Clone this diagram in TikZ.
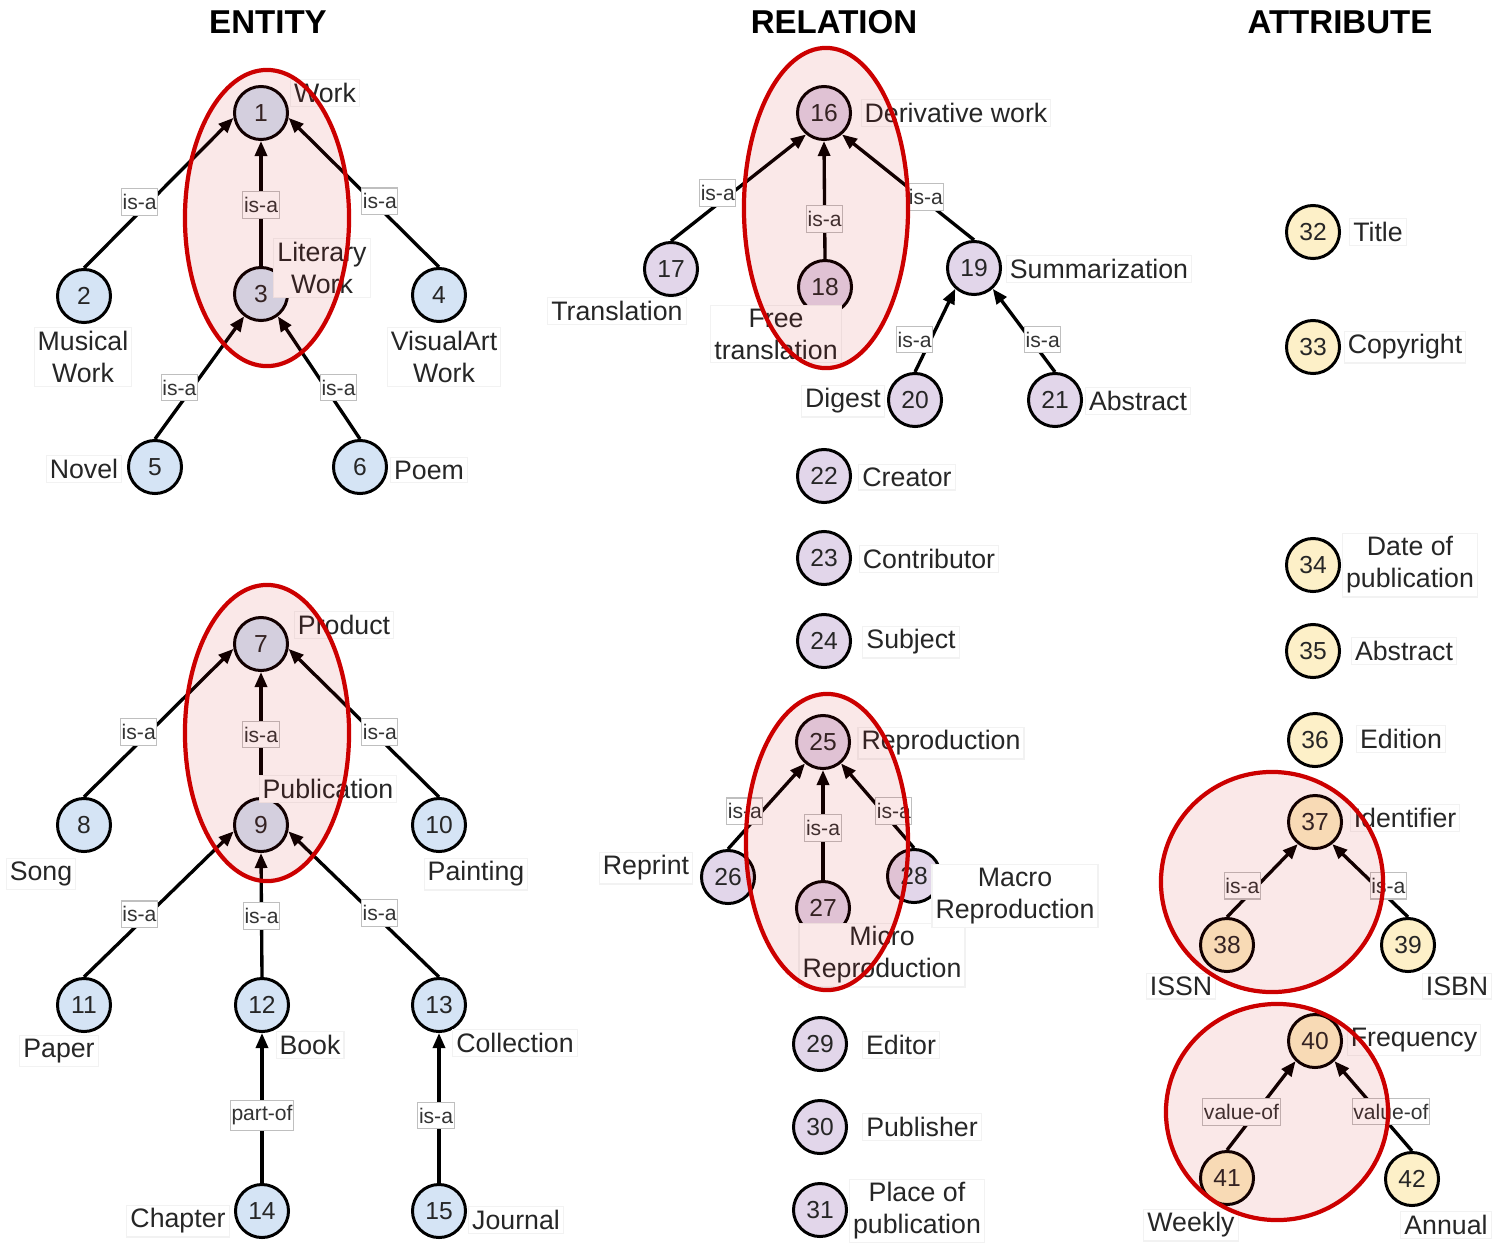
\documentclass[tikz,border=0pt]{standalone}
\usepackage{fontspec}
\setmainfont{Liberation Sans}
\usetikzlibrary{arrows.meta}

\definecolor{entfill}{RGB}{213,228,245}
\definecolor{relfill}{RGB}{226,214,234}
\definecolor{attfill}{RGB}{253,240,200}
\definecolor{hlred}{RGB}{204,0,0}

\tikzset{
  nd/.style={circle, draw, line width=0.85pt, minimum size=5.3mm, inner sep=0pt,
             font=\fontsize{7}{8}\selectfont, text=black!85},
  ent/.style={nd, fill=entfill},
  rel/.style={nd, fill=relfill},
  att/.style={nd, fill=attfill},
  lbl/.style={font=\fontsize{7.6}{9.1}\selectfont, align=center, inner sep=1pt,
              fill=white, draw=black!5, line width=0.3pt, text=black!85},
  elab/.style={font=\fontsize{6}{6.5}\selectfont, fill=white, draw=black!25,
               line width=0.3pt, inner xsep=0.3pt, inner ysep=1.6pt, text=black!80},
  edge/.style={line width=0.95pt, -{Triangle[length=1.5mm,width=1.2mm]}},
  hl/.style={draw=hlred, line width=1.2pt, fill=hlred, fill opacity=0.09},
  ttl/.style={font=\fontsize{9.4}{11}\selectfont\bfseries}
}

\begin{document}
\begin{tikzpicture}[x=0.01cm,y=-0.01cm]
\useasboundingbox (0,0) rectangle (1497,1242);

% column headings
\node[ttl] (tEnt) at (268,22) {ENTITY};
\node[ttl] (tRel) at (834,22) {RELATION};
\node[ttl] (tAtt) at (1340,22) {ATTRIBUTE};

% ---------- entity: works ----------
\node[ent] (n1) at (261,113) {1};
\node[ent] (n2) at (84,296) {2};
\node[ent] (n3) at (261,294) {3};
\node[ent] (n4) at (439,295) {4};
\node[ent] (n5) at (155,467) {5};
\node[ent] (n6) at (360,467) {6};

\draw[edge] (n2.north) -- node[elab, pos=0.44, xshift=-0.10cm]{is-a} (n1.190);
\draw[edge] (n3.north) -- node[elab, pos=0.49]{is-a} (n1.south);
\draw[edge] (n4.north) -- node[elab, pos=0.44, xshift=0.07cm]{is-a} (n1.-10);
\draw[edge] (n5.north) -- node[elab, pos=0.42, xshift=-0.13cm]{is-a} (n3.233);
\draw[edge] (n6.north) -- node[elab, pos=0.42, xshift=0.13cm]{is-a} (n3.-53);

\node[lbl] (l1) at (325,93) {Work};
\node[lbl] (l2) at (83,357) {Musical\\Work};
\node[lbl] (l3) at (322,268) {Literary\\Work};
\node[lbl] (l4) at (444,357) {VisualArt\\Work};
\node[lbl] (l5) at (84,469) {Novel};
\node[lbl] (l6) at (429,470) {Poem};

% ---------- entity: products ----------
\node[ent] (n7) at (261,644) {7};
\node[ent] (n8) at (84,825) {8};
\node[ent] (n9) at (261,825) {9};
\node[ent] (n10) at (439,825) {10};
\node[ent] (n11) at (84,1005) {11};
\node[ent] (n12) at (262,1005) {12};
\node[ent] (n13) at (439,1005) {13};
\node[ent] (n14) at (262,1211) {14};
\node[ent] (n15) at (439,1211) {15};

\draw[edge] (n8.north) -- node[elab, pos=0.44, xshift=-0.11cm]{is-a} (n7.190);
\draw[edge] (n9.north) -- node[elab, pos=0.50]{is-a} (n7.south);
\draw[edge] (n10.north) -- node[elab, pos=0.44, xshift=0.07cm]{is-a} (n7.-10);
\draw[edge] (n11.north) -- node[elab, pos=0.43, xshift=-0.09cm]{is-a} (n9.193);
\draw[edge] (n12.north) -- node[elab, pos=0.49]{is-a} (n9.south);
\draw[edge] (n13.north) -- node[elab, pos=0.44, xshift=0.07cm]{is-a} (n9.-13);
\draw[edge] (n14.north) -- node[elab, pos=0.45]{part-of} (n12.south);
\draw[edge] (n15.north) -- node[elab, pos=0.45, xshift=-0.03cm]{is-a} (n13.south);

\node[lbl] (l7) at (344,625) {Product};
\node[lbl] (l8) at (41,874) {Song};
\node[lbl] (l9) at (328,789) {Publication};
\node[lbl] (l10) at (476,874) {Painting};
\node[lbl] (l11) at (59,1051) {Paper};
\node[lbl] (l12) at (310,1045) {Book};
\node[lbl] (l13) at (515,1043) {Collection};
\node[lbl] (l14) at (178,1221) {Chapter};
\node[lbl] (l15) at (516,1220) {Journal};

% ---------- relations ----------
\node[rel] (n16) at (824,113) {16};
\node[rel] (n17) at (671,269) {17};
\node[rel] (n18) at (825,287) {18};
\node[rel] (n19) at (974,268) {19};
\node[rel] (n20) at (915,400) {20};
\node[rel] (n21) at (1055,400) {21};
\node[rel] (n22) at (824,476) {22};
\node[rel] (n23) at (824,558) {23};
\node[rel] (n24) at (824,641) {24};
\node[rel] (n25) at (823,742) {25};
\node[rel] (n26) at (728,877) {26};
\node[rel] (n27) at (823,908) {27};
\node[rel] (n28) at (914,876) {28};
\node[rel] (n29) at (820,1044) {29};
\node[rel] (n30) at (820,1127) {30};
\node[rel] (n31) at (820,1210) {31};

\draw[edge] (n17.north) -- node[elab, pos=0.45, xshift=-0.14cm]{is-a} (n16.230);
\draw[edge] (n18.north) -- node[elab, pos=0.34]{is-a} (n16.south);
\draw[edge] (n19.north) -- node[elab, pos=0.41, xshift=0.06cm]{is-a} (n16.-50);
\draw[edge] (n20.north) -- node[elab, pos=0.39, xshift=-0.16cm]{is-a} (n19.228);
\draw[edge] (n21.north) -- node[elab, pos=0.39, xshift=0.12cm]{is-a} (n19.-48);
\draw[edge] (n26.north) -- node[elab, pos=0.44, xshift=-0.17cm]{is-a} (n25.230);
\draw[edge] (n27.north) -- node[elab, pos=0.47]{is-a} (n25.south);
\draw[edge] (n28.north) -- node[elab, pos=0.44, xshift=0.12cm]{is-a} (n25.-50);

\node[lbl] (l16) at (956,113) {Derivative work};
\node[lbl] (l17) at (617,311) {Translation};
\node[lbl] (l18) at (776,334) {Free\\translation};
\node[lbl] (l19) at (1099,269) {Summarization};
\node[lbl] (l20) at (843,401) {Digest};
\node[lbl] (l21) at (1138,401) {Abstract};
\node[lbl] (l22) at (907,477) {Creator};
\node[lbl] (l23) at (929,559) {Contributor};
\node[lbl] (l24) at (911,642) {Subject};
\node[lbl] (l25) at (941,743) {Reproduction};
\node[lbl] (l26) at (646,868) {Reprint};
\node[lbl] (l27) at (882,955) {Micro\\Reproduction};
\node[lbl] (l28) at (1015,896) {Macro\\Reproduction};
\node[lbl] (l29) at (901,1045) {Editor};
\node[lbl] (l30) at (922,1127) {Publisher};
\node[lbl] (l31) at (917,1211) {Place of\\publication};

% ---------- attributes ----------
\node[att] (n32) at (1313,232) {32};
\node[att] (n33) at (1313,347) {33};
\node[att] (n34) at (1313,565) {34};
\node[att] (n35) at (1313,651) {35};
\node[att] (n36) at (1315,740) {36};
\node[att] (n37) at (1315,822) {37};
\node[att] (n38) at (1227,945) {38};
\node[att] (n39) at (1408,945) {39};
\node[att] (n40) at (1315,1041) {40};
\node[att] (n41) at (1227,1178) {41};
\node[att] (n42) at (1412,1179) {42};

\draw[edge] (n38.north) -- node[elab, pos=0.43, xshift=-0.15cm]{is-a} (n37.232);
\draw[edge] (n39.north) -- node[elab, pos=0.43, xshift=0.13cm]{is-a} (n37.-52);
\draw[edge] (n41.north) -- node[elab, pos=0.43, xshift=-0.15cm]{value-of} (n40.226);
\draw[edge] (n42.north) -- node[elab, pos=0.44, xshift=0.13cm]{value-of} (n40.-46);

\node[lbl] (l32) at (1378,232) {Title};
\node[lbl] (l33) at (1405,347) {Copyright};
\node[lbl] (l34) at (1410,565) {Date of\\publication};
\node[lbl] (l35) at (1404,651) {Abstract};
\node[lbl] (l36) at (1401,739) {Edition};
\node[lbl] (l37) at (1405,818) {Identifier};
\node[lbl] (l38) at (1181,986) {ISSN};
\node[lbl] (l39) at (1457,986) {ISBN};
\node[lbl] (l40) at (1414,1040) {Frequency};
\node[lbl] (l41) at (1191,1225) {Weekly};
\node[lbl] (l42) at (1446,1225) {Annual};

% ---------- highlighted groups, drawn over everything ----------
\draw[hl] (267,218) ellipse [x radius=0.82cm, y radius=1.48cm];
\draw[hl] (267,733) ellipse [x radius=0.82cm, y radius=1.48cm];
\draw[hl] (826,208) ellipse [x radius=0.82cm, y radius=1.60cm];
\draw[hl] (827,842) ellipse [x radius=0.81cm, y radius=1.48cm];
\draw[hl] (1272,882) ellipse [x radius=1.11cm, y radius=1.10cm];
\draw[hl] (1277,1112) ellipse [x radius=1.11cm, y radius=1.08cm];
\end{tikzpicture}
\end{document}
